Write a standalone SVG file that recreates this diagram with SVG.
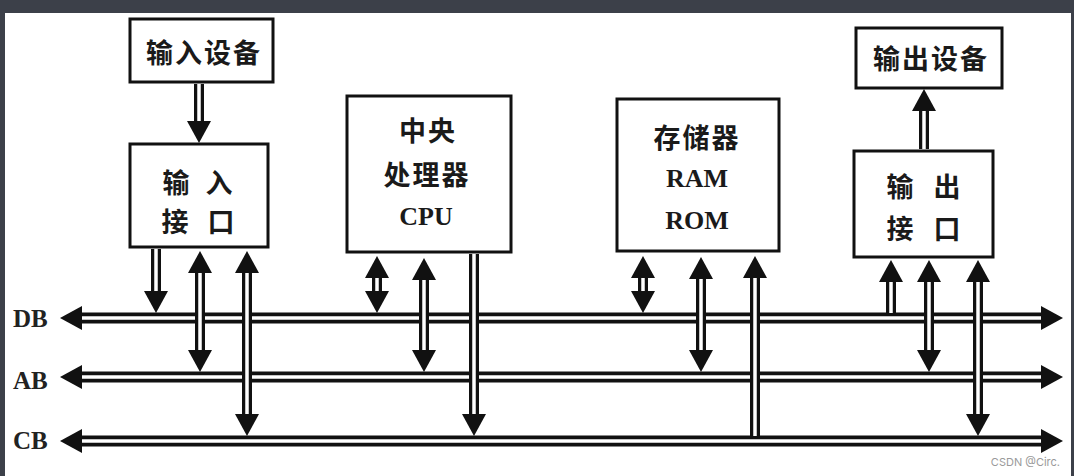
<svg xmlns="http://www.w3.org/2000/svg" width="1074" height="476" viewBox="0 0 1074 476">
<style>
.box{fill:#fff;stroke:#111;stroke-width:3}
.cjk{font-family:"Noto Sans CJK SC","Noto Sans CJK JP",sans-serif;font-weight:700;font-size:27px;fill:#1a1a1a;text-anchor:middle;dominant-baseline:central}
.sp{letter-spacing:2px}
.lat{font-family:"Liberation Serif",serif;font-weight:700;font-size:26px;fill:#1a1a1a;text-anchor:middle;dominant-baseline:central}
.bus{fill:none;stroke:#111;stroke-width:11}
.vo{fill:none;stroke:#111;stroke-width:10}
.in{fill:none;stroke:#fff;stroke-width:3.5}
.bl{font-family:"Liberation Serif",serif;font-weight:700;font-size:25px;fill:#222;dominant-baseline:central}
</style>
<defs>
<marker id="ah" viewBox="0 0 22 24" refX="10" refY="12" markerWidth="22" markerHeight="24" markerUnits="userSpaceOnUse" orient="auto-start-reverse">
<path d="M0,0 L22,12 L0,24 z" fill="#111"/>
</marker>
</defs>
<rect x="0" y="0" width="1074" height="476" fill="#3c4049"/>
<rect x="5" y="13" width="1066" height="463" fill="#fff"/>

<g id="connectors">
<!-- buses -->
<path class="bus" d="M72,318 H1051" marker-start="url(#ah)" marker-end="url(#ah)"/>
<path class="in" d="M82,318 H1041"/>
<path class="bus" d="M72,377 H1051" marker-start="url(#ah)" marker-end="url(#ah)"/>
<path class="in" d="M82,377 H1041"/>
<path class="bus" d="M72,441 H1051" marker-start="url(#ah)" marker-end="url(#ah)"/>
<path class="in" d="M82,441 H1041"/>
<!-- verticals -->
<path class="vo" d="M199,84 V131" marker-end="url(#ah)"/><path class="in" d="M199,84 V121"/>
<path class="vo" d="M156,249 V301" marker-end="url(#ah)"/><path class="in" d="M156,249 V291"/>
<path class="vo" d="M200,263 V360" marker-start="url(#ah)" marker-end="url(#ah)"/><path class="in" d="M200,273 V350"/>
<path class="vo" d="M247,263 V424" marker-start="url(#ah)" marker-end="url(#ah)"/><path class="in" d="M247,273 V414"/>
<path class="vo" d="M377,268 V301" marker-start="url(#ah)" marker-end="url(#ah)"/><path class="in" d="M377,278 V291"/>
<path class="vo" d="M424,270 V360" marker-start="url(#ah)" marker-end="url(#ah)"/><path class="in" d="M424,280 V350"/>
<path class="vo" d="M474,254 V424" marker-end="url(#ah)"/><path class="in" d="M474,254 V414"/>
<path class="vo" d="M643,268 V301" marker-start="url(#ah)" marker-end="url(#ah)"/><path class="in" d="M643,278 V291"/>
<path class="vo" d="M701,269 V360" marker-start="url(#ah)" marker-end="url(#ah)"/><path class="in" d="M701,279 V350"/>
<path class="vo" d="M755,439 V268" marker-end="url(#ah)"/><path class="in" d="M755,436 V278"/>
<path class="vo" d="M891,316 V272" marker-end="url(#ah)"/><path class="in" d="M891,313 V282"/>
<path class="vo" d="M929,272 V360" marker-start="url(#ah)" marker-end="url(#ah)"/><path class="in" d="M929,282 V350"/>
<path class="vo" d="M978,272 V424" marker-start="url(#ah)" marker-end="url(#ah)"/><path class="in" d="M978,282 V414"/>
<path class="vo" d="M924,149 V101" marker-end="url(#ah)"/><path class="in" d="M924,149 V111"/>
</g>

<g id="input-device">
<rect class="box" x="130" y="19" width="143" height="63"/>
<text class="cjk sp" x="204" y="51">输入设备</text>
</g>
<g id="input-interface">
<rect class="box" x="130" y="144" width="138" height="103"/>
<text class="cjk" x="176" y="181">输</text><text class="cjk" x="219" y="181">入</text>
<text class="cjk" x="175" y="220">接</text><text class="cjk" x="221" y="220">口</text>
</g>
<g id="cpu">
<rect class="box" x="347" y="96" width="164" height="156"/>
<text class="cjk sp" x="428" y="129">中央</text>
<text class="cjk sp" x="427" y="173">处理器</text>
<text class="lat" x="426" y="216">CPU</text>
</g>
<g id="memory">
<rect class="box" x="617" y="99" width="162" height="152"/>
<text class="cjk sp" x="697" y="136">存储器</text>
<text class="lat" x="697" y="178">RAM</text>
<text class="lat" x="697" y="220">ROM</text>
</g>
<g id="output-device">
<rect class="box" x="856" y="28" width="146" height="60"/>
<text class="cjk sp" x="931" y="57">输出设备</text>
</g>
<g id="output-interface">
<rect class="box" x="854" y="151" width="139" height="106"/>
<text class="cjk" x="900" y="185">输</text><text class="cjk" x="947" y="185">出</text>
<text class="cjk" x="900" y="227">接</text><text class="cjk" x="947" y="227">口</text>
</g>
<g id="labels">
<text class="bl" x="13" y="318">DB</text>
<text class="bl" x="13" y="380">AB</text>
<text class="bl" x="13" y="440">CB</text>
</g>
<text x="1060" y="462" font-family="Inter, sans-serif" font-size="11" fill="#9a9a9a" text-anchor="end" dominant-baseline="central">CSDN @Circ.</text>
</svg>
